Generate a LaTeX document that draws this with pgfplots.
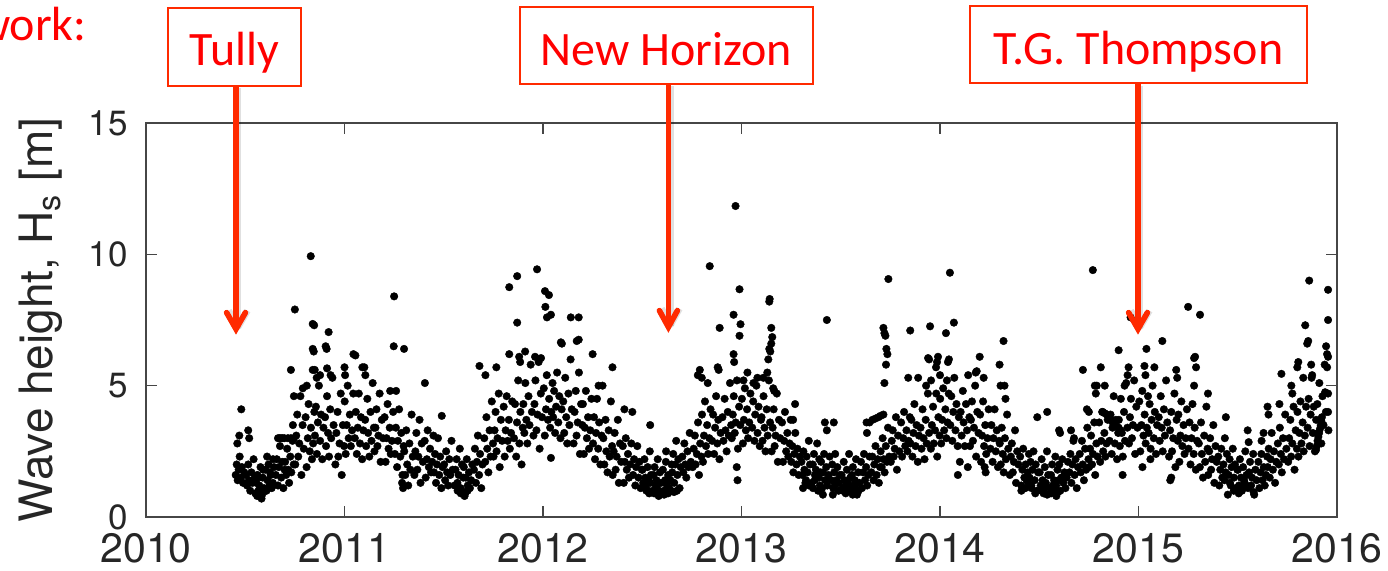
\documentclass[border=0pt]{standalone}
\usepackage{fontspec}
\setmainfont{TeX Gyre Heros}
\newfontfamily\calibri{Carlito}
\usepackage{pgfplots}
\usepackage{pgfplotstable}
\pgfplotsset{compat=1.18}
\definecolor{annot}{RGB}{255,42,0}
\definecolor{labelred}{RGB}{255,0,0}
\definecolor{axisgray}{RGB}{70,70,70}

% daily significant wave height; t = years since 2000, hs in metres
\pgfplotstableread[row sep=\\]{
t hs\\
10.452 1.6\\10.457 2.0\\10.462 1.4\\10.467 1.8\\10.472 2.3\\10.478 1.5\\10.483 1.9\\10.489 1.3\\10.495 1.7\\10.48 4.1\\10.47 3.1\\10.46 2.8\\
10.504 1.6\\10.509 1.2\\10.515 2.0\\10.519 1.4\\10.525 1.0\\10.531 1.7\\10.536 1.3\\10.542 2.2\\10.548 1.5\\10.515 3.3\\10.52 3.0\\
10.551 0.9\\10.556 1.3\\10.561 1.6\\10.566 1.0\\10.571 1.2\\10.577 1.9\\10.582 0.7\\10.588 1.5\\10.594 1.1\\10.56 0.8\\10.575 1.0\\10.585 0.85\\10.565 1.5\\10.59 1.8\\
10.602 1.8\\10.607 1.0\\10.612 1.4\\10.617 2.0\\10.622 1.2\\10.628 1.6\\10.633 1.1\\10.639 1.3\\10.645 1.9\\10.61 2.3\\10.625 1.7\\10.64 2.2\\
10.654 1.6\\10.659 2.2\\10.665 1.2\\10.669 1.9\\10.675 2.7\\10.681 1.5\\10.686 2.1\\10.692 1.1\\10.698 1.8\\10.665 3.0\\10.672 3.0\\10.68 3.0\\10.688 3.0\\
10.701 2.1\\10.706 1.6\\10.711 2.6\\10.716 1.8\\10.721 1.3\\10.727 2.3\\10.732 1.7\\10.738 2.9\\10.744 2.0\\10.697 3.0\\10.715 3.0\\10.73 3.0\\10.745 3.0\\
10.752 2.0\\10.757 3.1\\10.762 3.9\\10.767 2.3\\10.772 2.8\\10.778 4.6\\10.783 1.6\\10.789 3.5\\10.795 2.6\\10.75 7.9\\10.73 5.6\\10.745 4.6\\10.74 3.5\\
10.804 3.8\\10.809 1.9\\10.815 3.0\\10.819 4.3\\10.825 2.5\\10.831 3.4\\10.836 2.2\\10.842 2.8\\10.848 4.0\\10.83 9.93\\10.84 7.35\\10.847 7.3\\10.845 6.3\\10.84 6.4\\10.81 5.0\\10.79 4.9\\10.84 5.6\\10.85 5.6\\
10.851 3.1\\10.856 4.2\\10.861 2.4\\10.866 3.6\\10.871 5.0\\10.877 2.9\\10.882 3.9\\10.888 2.2\\10.894 3.4\\10.877 5.4\\10.86 5.3\\
10.902 3.8\\10.907 2.7\\10.912 4.6\\10.917 3.2\\10.922 2.3\\10.928 4.1\\10.933 3.0\\10.939 5.3\\10.945 3.5\\10.905 6.5\\10.91 6.4\\10.92 7.04\\10.912 5.66\\10.93 5.4\\
10.954 2.0\\10.959 3.2\\10.965 4.0\\10.969 2.3\\10.975 2.8\\10.981 4.7\\10.986 1.6\\10.992 3.5\\10.998 2.7\\
11.001 4.4\\11.006 2.4\\11.011 3.5\\11.016 5.0\\11.021 3.0\\11.027 3.9\\11.032 2.7\\11.038 3.3\\11.044 4.7\\11.0 5.7\\11.003 5.4\\11.045 6.2\\11.055 6.15\\
11.052 3.0\\11.057 4.0\\11.062 2.4\\11.067 3.4\\11.072 4.7\\11.078 2.8\\11.083 3.8\\11.089 2.2\\11.095 3.3\\11.09 5.7\\11.1 5.7\\11.105 5.4\\
11.104 3.7\\11.109 2.7\\11.115 4.5\\11.119 3.2\\11.125 2.3\\11.131 4.0\\11.136 2.9\\11.142 5.1\\11.148 3.4\\
11.151 2.5\\11.156 3.4\\11.161 4.1\\11.166 2.7\\11.171 3.1\\11.177 4.7\\11.182 2.1\\11.188 3.7\\11.194 3.0\\
11.202 3.8\\11.207 2.1\\11.212 3.0\\11.217 4.3\\11.222 2.6\\11.228 3.4\\11.233 2.4\\11.239 2.9\\11.245 4.0\\11.25 8.4\\11.248 6.5\\11.23 4.8\\11.26 4.8\\
11.254 2.4\\11.259 3.4\\11.265 1.9\\11.269 2.9\\11.275 4.1\\11.281 2.3\\11.286 3.2\\11.292 1.6\\11.298 2.7\\11.29 1.3\\11.295 1.1\\11.30 6.4\\
11.301 2.5\\11.306 1.6\\11.311 3.3\\11.316 2.0\\11.321 1.2\\11.327 2.8\\11.332 1.8\\11.338 3.9\\11.344 2.3\\
11.352 1.6\\11.357 2.5\\11.362 3.2\\11.367 1.8\\11.372 2.3\\11.378 3.7\\11.383 1.3\\11.389 2.8\\11.395 2.1\\
11.404 2.9\\11.409 1.5\\11.415 2.2\\11.419 3.3\\11.425 1.9\\11.431 2.6\\11.436 1.7\\11.442 2.1\\11.448 3.1\\11.405 5.1\\
11.451 1.7\\11.456 2.4\\11.461 1.3\\11.466 2.0\\11.471 3.0\\11.477 1.6\\11.482 2.3\\11.488 1.1\\11.494 1.9\\11.49 3.85\\
11.502 2.0\\11.507 1.4\\11.512 2.5\\11.517 1.7\\11.522 1.2\\11.528 2.2\\11.533 1.6\\11.539 2.9\\11.545 1.8\\
11.554 1.2\\11.559 1.8\\11.565 2.2\\11.569 1.3\\11.575 1.6\\11.581 2.6\\11.586 0.9\\11.592 2.0\\11.598 1.5\\11.57 1.0\\11.585 1.1\\11.595 0.9\\
11.601 1.9\\11.606 0.9\\11.611 1.5\\11.616 2.2\\11.621 1.2\\11.627 1.7\\11.632 1.1\\11.638 1.4\\11.644 2.0\\11.605 0.8\\11.612 0.95\\11.62 1.0\\
11.652 1.8\\11.657 2.6\\11.662 1.3\\11.667 2.1\\11.672 3.1\\11.678 1.6\\11.683 2.4\\11.689 1.1\\11.695 2.0\\
11.704 3.0\\11.709 2.1\\11.715 3.8\\11.719 2.6\\11.725 1.7\\11.731 3.3\\11.736 2.3\\11.742 4.4\\11.748 2.8\\11.68 5.75\\11.71 5.4\\
11.751 2.3\\11.756 3.3\\11.761 4.0\\11.766 2.5\\11.771 3.0\\11.777 4.7\\11.782 1.9\\11.788 3.7\\11.794 2.9\\11.765 5.7\\
11.802 4.2\\11.807 2.3\\11.812 3.3\\11.817 4.6\\11.822 2.9\\11.828 3.7\\11.833 2.6\\11.839 3.2\\11.845 4.4\\11.83 6.2\\11.83 8.75\\
11.854 3.0\\11.859 4.3\\11.865 2.3\\11.869 3.6\\11.875 5.2\\11.881 2.8\\11.886 4.0\\11.892 2.0\\11.898 3.4\\11.87 9.17\\11.87 7.4\\11.88 6.1\\11.885 5.9\\
11.901 4.3\\11.906 3.2\\11.911 5.1\\11.916 3.7\\11.921 2.8\\11.927 4.6\\11.932 3.5\\11.938 5.8\\11.944 4.0\\11.91 6.3\\
11.952 3.1\\11.957 4.3\\11.962 5.2\\11.967 3.3\\11.972 3.9\\11.978 5.9\\11.983 2.6\\11.989 4.7\\11.995 3.8\\11.97 9.43\\11.96 6.1\\11.99 6.05\\
12.004 4.9\\12.009 3.1\\12.015 4.1\\12.019 5.4\\12.025 3.7\\12.031 4.5\\12.036 3.4\\12.042 4.0\\12.048 5.1\\12.01 8.6\\12.03 8.45\\12.012 8.0\\12.02 7.6\\12.04 7.7\\12.04 2.25\\
12.051 3.8\\12.056 4.8\\12.061 3.2\\12.066 4.2\\12.071 5.5\\12.077 3.6\\12.082 4.6\\12.088 3.0\\12.094 4.1\\
12.102 4.4\\12.107 3.2\\12.112 5.3\\12.117 3.8\\12.122 2.8\\12.128 4.7\\12.133 3.5\\12.139 6.0\\12.145 4.1\\12.09 6.65\\12.095 6.6\\12.14 7.6\\
12.154 2.8\\12.159 4.0\\12.165 4.8\\12.169 3.1\\12.175 3.6\\12.181 5.5\\12.186 2.4\\12.192 4.3\\12.198 3.5\\12.17 6.7\\12.18 6.75\\12.18 7.6\\
12.201 4.3\\12.206 2.4\\12.211 3.4\\12.216 4.8\\12.221 3.0\\12.227 3.8\\12.232 2.6\\12.238 3.3\\12.244 4.5\\
12.252 2.8\\12.257 3.8\\12.262 2.2\\12.267 3.2\\12.272 4.5\\12.278 2.6\\12.283 3.6\\12.289 2.0\\12.295 3.1\\12.25 6.2\\
12.304 3.0\\12.309 2.0\\12.315 3.7\\12.319 2.5\\12.325 1.7\\12.331 3.3\\12.336 2.3\\12.342 4.4\\12.348 2.7\\12.28 5.0\\12.30 5.0\\12.35 5.7\\
12.351 1.6\\12.356 2.5\\12.361 3.2\\12.366 1.8\\12.371 2.3\\12.377 3.7\\12.382 1.3\\12.388 2.8\\12.394 2.1\\
12.402 2.7\\12.407 1.3\\12.412 2.1\\12.417 3.0\\12.422 1.8\\12.428 2.4\\12.433 1.5\\12.439 2.0\\12.445 2.8\\12.41 4.1\\12.45 4.0\\
12.454 1.6\\12.459 2.2\\12.465 1.2\\12.469 1.9\\12.475 2.7\\12.481 1.5\\12.486 2.1\\12.492 1.1\\12.498 1.8\\
12.501 1.8\\12.506 1.2\\12.511 2.2\\12.516 1.5\\12.521 1.0\\12.527 1.9\\12.532 1.4\\12.538 2.5\\12.544 1.6\\12.505 1.3\\12.52 1.1\\12.535 0.9\\12.54 1.3\\
12.552 1.0\\12.557 1.6\\12.562 1.9\\12.567 1.2\\12.572 1.4\\12.578 2.2\\12.583 0.8\\12.589 1.7\\12.595 1.3\\12.54 3.5\\12.56 0.9\\12.575 1.1\\12.59 0.95\\
12.604 1.8\\12.609 1.0\\12.615 1.4\\12.619 2.1\\12.625 1.2\\12.631 1.6\\12.636 1.1\\12.642 1.4\\12.648 2.0\\12.61 0.85\\12.63 0.9\\12.645 1.0\\12.62 2.5\\
12.651 1.7\\12.656 2.4\\12.661 1.3\\12.666 2.0\\12.671 2.9\\12.677 1.6\\12.682 2.2\\12.688 1.1\\12.694 1.9\\12.66 0.95\\12.675 1.0\\
12.702 2.3\\12.707 1.7\\12.712 2.8\\12.717 2.0\\12.722 1.5\\12.728 2.5\\12.733 1.9\\12.739 3.2\\12.745 2.1\\
12.754 1.9\\12.759 2.6\\12.765 3.1\\12.769 2.0\\12.775 2.4\\12.781 3.6\\12.786 1.6\\12.792 2.8\\12.798 2.3\\12.78 5.4\\12.79 5.6\\12.8 5.3\\
12.801 3.9\\12.806 2.1\\12.811 3.1\\12.816 4.4\\12.821 2.7\\12.827 3.5\\12.832 2.4\\12.838 3.0\\12.844 4.1\\12.84 9.55\\12.83 5.1\\
12.852 2.9\\12.857 3.9\\12.862 2.4\\12.867 3.4\\12.872 4.6\\12.878 2.8\\12.883 3.7\\12.889 2.2\\12.895 3.2\\12.88 5.7\\12.885 5.6\\12.89 7.2\\
12.904 3.8\\12.909 2.9\\12.915 4.5\\12.919 3.3\\12.925 2.5\\12.931 4.0\\12.936 3.1\\12.942 5.1\\12.948 3.5\\
12.951 3.0\\12.956 3.9\\12.961 4.6\\12.966 3.2\\12.971 3.6\\12.977 5.2\\12.982 2.6\\12.988 4.2\\12.994 3.5\\12.97 11.84\\12.96 7.7\\12.99 8.67\\12.995 7.34\\12.99 6.9\\12.96 6.2\\12.963 5.9\\12.976 1.9\\12.98 1.4\\
13.002 4.5\\13.007 2.8\\13.012 3.7\\13.017 4.9\\13.022 3.3\\13.028 4.1\\13.033 3.0\\13.039 3.6\\13.045 4.7\\13.01 5.2\\13.03 5.5\\
13.054 3.4\\13.059 4.4\\13.065 2.9\\13.069 3.9\\13.075 5.0\\13.081 3.2\\13.086 4.2\\13.092 2.7\\13.098 3.7\\13.06 5.1\\13.08 5.3\\
13.101 3.8\\13.106 2.9\\13.111 4.6\\13.116 3.4\\13.121 2.5\\13.127 4.1\\13.132 3.1\\13.138 5.2\\13.144 3.6\\13.11 5.3\\13.13 5.5\\13.14 8.2\\13.142 8.3\\13.15 7.2\\13.155 6.85\\13.15 6.6\\13.14 6.4\\13.145 6.3\\13.135 6.0\\
13.152 2.5\\13.157 3.4\\13.162 4.1\\13.167 2.7\\13.172 3.1\\13.178 4.7\\13.183 2.1\\13.189 3.7\\13.195 3.0\\13.16 4.9\\13.165 4.8\\
13.204 3.6\\13.209 2.1\\13.215 2.9\\13.219 4.0\\13.225 2.5\\13.231 3.2\\13.236 2.3\\13.242 2.8\\13.248 3.7\\
13.251 2.1\\13.256 2.7\\13.261 1.7\\13.266 2.4\\13.271 3.2\\13.277 2.0\\13.282 2.6\\13.288 1.6\\13.294 2.3\\13.27 4.3\\13.26 3.7\\
13.302 2.1\\13.307 1.6\\13.312 2.5\\13.317 1.8\\13.322 1.3\\13.328 2.3\\13.333 1.7\\13.339 2.9\\13.345 2.0\\13.31 1.1\\13.325 1.4\\13.34 1.2\\
13.354 1.3\\13.359 2.0\\13.365 2.4\\13.369 1.4\\13.375 1.8\\13.381 2.8\\13.386 1.0\\13.392 2.2\\13.398 1.7\\13.36 1.1\\13.37 1.6\\13.39 1.5\\13.395 1.2\\
13.401 2.1\\13.406 1.1\\13.411 1.7\\13.416 2.4\\13.421 1.4\\13.427 1.9\\13.432 1.2\\13.438 1.6\\13.444 2.3\\13.42 3.6\\13.43 3.3\\13.43 7.5\\13.41 0.85\\
13.452 1.4\\13.457 2.0\\13.462 1.1\\13.467 1.7\\13.472 2.4\\13.478 1.4\\13.483 1.9\\13.489 1.0\\13.495 1.6\\13.465 3.6\\13.46 0.85\\13.47 1.2\\13.49 1.3\\
13.504 1.6\\13.509 1.1\\13.515 2.1\\13.519 1.4\\13.525 0.9\\13.531 1.8\\13.536 1.3\\13.542 2.4\\13.548 1.5\\13.51 1.0\\13.525 1.2\\13.54 1.1\\
13.551 1.0\\13.556 1.6\\13.561 1.9\\13.566 1.2\\13.571 1.4\\13.577 2.2\\13.582 0.85\\13.588 1.7\\13.594 1.3\\13.56 0.85\\13.575 1.1\\13.59 1.0\\
13.602 2.1\\13.607 1.1\\13.612 1.7\\13.617 2.4\\13.622 1.4\\13.628 1.9\\13.633 1.2\\13.639 1.6\\13.645 2.3\\13.63 3.6\\13.632 3.2\\
13.654 1.7\\13.659 2.3\\13.665 1.4\\13.669 2.0\\13.675 2.7\\13.681 1.6\\13.686 2.2\\13.692 1.3\\13.698 1.9\\13.645 3.6\\13.66 3.7\\13.675 3.75\\13.69 3.8\\13.70 3.85\\13.715 3.9\\
13.701 2.5\\13.706 1.9\\13.711 3.0\\13.716 2.2\\13.721 1.7\\13.727 2.7\\13.732 2.1\\13.738 3.4\\13.744 2.3\\13.715 7.2\\13.72 7.0\\13.725 6.9\\13.74 9.06\\13.73 6.4\\13.735 6.2\\13.728 5.8\\13.72 5.1\\
13.752 2.1\\13.757 2.9\\13.762 3.3\\13.767 2.3\\13.772 2.6\\13.778 3.8\\13.783 1.8\\13.789 3.1\\13.795 2.5\\
13.804 3.6\\13.809 2.3\\13.815 3.0\\13.819 4.0\\13.825 2.7\\13.831 3.3\\13.836 2.5\\13.842 2.9\\13.848 3.8\\13.84 5.3\\
13.851 2.8\\13.856 3.7\\13.861 2.3\\13.866 3.2\\13.871 4.3\\13.877 2.7\\13.882 3.5\\13.888 2.1\\13.894 3.1\\13.85 7.1\\13.89 5.3\\
13.902 3.4\\13.907 2.6\\13.912 4.1\\13.917 3.0\\13.922 2.2\\13.928 3.7\\13.933 2.8\\13.939 4.7\\13.945 3.2\\
13.954 2.6\\13.959 3.5\\13.965 4.2\\13.969 2.8\\13.975 3.3\\13.981 4.7\\13.986 2.3\\13.992 3.8\\13.998 3.1\\13.95 7.26\\13.94 6.05\\13.945 6.0\\13.955 5.2\\13.93 5.0\\
14.001 4.5\\14.006 2.8\\14.011 3.7\\14.016 4.9\\14.021 3.3\\14.027 4.1\\14.032 3.0\\14.038 3.6\\14.044 4.7\\13.98 5.7\\13.985 5.9\\13.99 6.1\\14.0 5.4\\14.03 7.0\\14.04 5.9\\14.045 6.0\\14.05 9.3\\14.07 7.4\\14.035 5.2\\
14.052 3.5\\14.057 4.6\\14.062 2.9\\14.067 4.0\\14.072 5.3\\14.078 3.3\\14.083 4.3\\14.089 2.7\\14.095 3.8\\
14.104 4.0\\14.109 3.1\\14.115 4.8\\14.119 3.6\\14.125 2.7\\14.131 4.3\\14.136 3.3\\14.142 5.4\\14.148 3.8\\14.09 1.6\\14.1 2.1\\
14.151 2.7\\14.156 3.7\\14.161 4.4\\14.166 2.9\\14.171 3.4\\14.177 5.0\\14.182 2.3\\14.188 4.0\\14.194 3.2\\14.18 5.5\\14.185 5.55\\14.14 1.9\\
14.202 3.9\\14.207 2.1\\14.212 3.1\\14.217 4.4\\14.222 2.7\\14.228 3.5\\14.233 2.4\\14.239 3.0\\14.245 4.1\\14.22 5.3\\14.2 6.1\\14.225 1.9\\14.23 1.7\\
14.254 2.6\\14.259 3.5\\14.265 2.1\\14.269 3.0\\14.275 4.1\\14.281 2.5\\14.286 3.3\\14.292 1.9\\14.298 2.9\\14.3 5.8\\14.32 6.7\\14.305 5.0\\14.325 5.0\\
14.301 2.8\\14.306 2.0\\14.311 3.4\\14.316 2.4\\14.321 1.7\\14.327 3.0\\14.332 2.2\\14.338 3.9\\14.344 2.6\\14.33 4.5\\
14.352 1.6\\14.357 2.3\\14.362 2.8\\14.367 1.7\\14.372 2.1\\14.378 3.3\\14.383 1.3\\14.389 2.5\\14.395 2.0\\
14.404 2.3\\14.409 1.2\\14.415 1.8\\14.419 2.6\\14.425 1.5\\14.431 2.0\\14.436 1.4\\14.442 1.7\\14.448 2.4\\14.41 1.0\\14.43 1.1\\14.445 1.3\\
14.451 1.5\\14.456 2.1\\14.461 1.1\\14.466 1.8\\14.471 2.5\\14.477 1.4\\14.482 2.0\\14.488 1.0\\14.494 1.7\\14.46 1.2\\14.48 0.9\\14.49 3.8\\
14.502 1.7\\14.507 1.2\\14.512 2.2\\14.517 1.4\\14.522 0.9\\14.528 1.9\\14.533 1.3\\14.539 2.5\\14.545 1.6\\14.51 1.0\\14.525 1.1\\14.54 0.85\\14.54 4.0\\
14.554 1.1\\14.559 1.6\\14.565 2.0\\14.569 1.2\\14.575 1.4\\14.581 2.3\\14.586 0.8\\14.592 1.8\\14.598 1.4\\14.56 0.9\\14.57 1.0\\14.585 1.2\\14.595 0.95\\
14.601 2.0\\14.606 1.0\\14.611 1.5\\14.616 2.2\\14.621 1.3\\14.627 1.7\\14.632 1.1\\14.638 1.5\\14.644 2.1\\14.60 3.3\\14.605 3.2\\
14.652 1.7\\14.657 2.4\\14.662 1.3\\14.667 2.0\\14.672 2.9\\14.678 1.6\\14.683 2.2\\14.689 1.1\\14.695 1.9\\14.66 3.3\\14.675 3.0\\
14.704 2.4\\14.709 1.7\\14.715 2.9\\14.719 2.0\\14.725 1.4\\14.731 2.6\\14.736 1.8\\14.742 3.4\\14.748 2.2\\14.72 5.6\\
14.751 1.9\\14.756 2.6\\14.761 3.1\\14.766 2.0\\14.771 2.4\\14.777 3.6\\14.782 1.6\\14.788 2.8\\14.794 2.3\\14.77 9.4\\14.74 4.1\\14.75 4.0\\14.78 5.0\\14.785 4.7\\14.79 5.0\\
14.802 3.6\\14.807 2.1\\14.812 2.9\\14.817 4.0\\14.822 2.5\\14.828 3.2\\14.833 2.3\\14.839 2.8\\14.845 3.7\\14.81 5.7\\14.83 5.0\\14.82 4.0\\14.83 3.95\\14.84 3.9\\14.85 3.8\\14.86 3.7\\14.87 3.6\\14.88 3.5\\14.89 3.45\\14.90 3.4\\14.91 3.3\\
14.854 2.9\\14.859 3.9\\14.865 2.4\\14.869 3.4\\14.875 4.6\\14.881 2.8\\14.886 3.7\\14.892 2.2\\14.898 3.2\\
14.901 3.7\\14.906 2.7\\14.911 4.5\\14.916 3.2\\14.921 2.3\\14.927 4.0\\14.932 2.9\\14.938 5.1\\14.944 3.4\\14.90 6.35\\14.92 1.6\\14.93 5.0\\14.945 5.4\\14.95 5.7\\14.96 7.6\\
14.952 2.8\\14.957 3.8\\14.962 4.5\\14.967 3.0\\14.972 3.5\\14.978 5.2\\14.983 2.4\\14.989 4.2\\14.995 3.4\\
15.004 4.4\\15.009 2.5\\15.015 3.5\\15.019 4.8\\15.025 3.1\\15.031 3.9\\15.036 2.8\\15.042 3.4\\15.048 4.6\\15.02 1.9\\15.04 6.4\\15.03 5.75\\15.035 5.4\\
15.051 3.2\\15.056 4.3\\15.061 2.6\\15.066 3.7\\15.071 5.0\\15.077 3.0\\15.082 4.0\\15.088 2.4\\15.094 3.5\\15.06 2.2\\15.08 5.7\\
15.102 3.8\\15.107 2.9\\15.112 4.6\\15.117 3.4\\15.122 2.5\\15.128 4.1\\15.133 3.1\\15.139 5.2\\15.145 3.6\\15.12 6.7\\
15.154 2.3\\15.159 3.3\\15.165 4.0\\15.169 2.5\\15.175 3.0\\15.181 4.7\\15.186 1.9\\15.192 3.7\\15.198 2.9\\15.16 1.4\\15.165 1.5\\15.19 5.6\\15.195 5.3\\
15.201 3.9\\15.206 2.1\\15.211 3.1\\15.216 4.4\\15.221 2.7\\15.227 3.5\\15.232 2.4\\15.238 3.0\\15.244 4.1\\
15.252 2.6\\15.257 3.6\\15.262 2.0\\15.267 3.0\\15.272 4.3\\15.278 2.4\\15.283 3.4\\15.289 1.8\\15.295 2.9\\15.25 8.0\\15.28 6.05\\15.285 6.1\\15.29 5.7\\15.28 5.0\\
15.304 2.8\\15.309 1.9\\15.315 3.6\\15.319 2.4\\15.325 1.5\\15.331 3.1\\15.336 2.1\\15.342 4.2\\15.348 2.6\\15.31 7.7\\15.35 4.7\\
15.351 1.6\\15.356 2.5\\15.361 3.0\\15.366 1.8\\15.371 2.2\\15.377 3.5\\15.382 1.3\\15.388 2.7\\15.394 2.1\\
15.402 2.3\\15.407 1.2\\15.412 1.8\\15.417 2.6\\15.422 1.5\\15.428 2.0\\15.433 1.4\\15.439 1.7\\15.445 2.4\\15.44 3.8\\15.435 3.0\\
15.454 1.6\\15.459 2.2\\15.465 1.2\\15.469 1.9\\15.475 2.6\\15.481 1.5\\15.486 2.0\\15.492 1.1\\15.498 1.8\\15.46 1.3\\15.48 1.0\\15.45 0.85\\
15.501 1.8\\15.506 1.2\\15.511 2.2\\15.516 1.5\\15.521 1.0\\15.527 1.9\\15.532 1.4\\15.538 2.5\\15.544 1.6\\15.505 0.9\\15.52 1.1\\15.535 1.3\\
15.552 1.1\\15.557 1.7\\15.562 2.1\\15.567 1.2\\15.572 1.5\\15.578 2.4\\15.583 0.85\\15.589 1.8\\15.595 1.4\\15.55 3.3\\15.555 2.85\\15.58 0.95\\
15.604 2.1\\15.609 1.1\\15.615 1.7\\15.619 2.4\\15.625 1.4\\15.631 1.9\\15.636 1.2\\15.642 1.6\\15.648 2.3\\15.65 4.2\\15.655 3.9\\15.63 3.2\\15.62 2.9\\
15.651 1.9\\15.656 2.6\\15.661 1.5\\15.666 2.2\\15.671 3.2\\15.677 1.8\\15.682 2.5\\15.688 1.3\\15.694 2.1\\
15.702 2.8\\15.707 2.0\\15.712 3.4\\15.717 2.4\\15.722 1.7\\15.728 3.0\\15.733 2.2\\15.739 3.9\\15.745 2.6\\15.72 5.45\\15.71 4.3\\
15.754 2.1\\15.759 3.0\\15.765 3.7\\15.769 2.3\\15.775 2.8\\15.781 4.2\\15.786 1.8\\15.792 3.3\\15.798 2.6\\15.77 5.0\\15.775 4.7\\15.80 5.7\\15.805 5.9\\
15.801 4.0\\15.806 2.3\\15.811 3.2\\15.816 4.4\\15.821 2.8\\15.827 3.6\\15.832 2.5\\15.838 3.1\\15.844 4.2\\15.84 7.3\\15.85 6.6\\15.855 6.7\\15.83 5.3\\
15.852 3.4\\15.857 4.5\\15.862 2.7\\15.867 3.9\\15.872 5.3\\15.878 3.2\\15.883 4.2\\15.889 2.5\\15.895 3.7\\15.86 9.0\\15.87 5.8\\15.875 5.4\\
15.901 4.3\\15.906 3.2\\15.911 5.1\\15.916 3.7\\15.921 2.8\\15.927 4.6\\15.932 3.5\\15.938 5.8\\15.944 4.0\\15.894 2.55\\15.898 2.7\\15.902 2.9\\15.906 3.05\\15.91 3.2\\15.914 3.35\\15.918 3.5\\15.921 3.65\\15.924 3.8\\15.945 6.5\\15.95 6.2\\15.955 6.1\\15.955 7.5\\15.955 8.65\\15.95 5.7\\15.955 4.7\\15.955 4.0\\15.957 3.3\\15.94 4.75\\
}\hsdata

\tikzset{
  shipbox/.style={draw=annot, line width=1pt, fill=white},
  shiplabel/.style={anchor=base, inner sep=0pt, text=labelred,
    font=\calibri\fontsize{24}{24}\selectfont},
  shaft/.style={draw=annot, line width=2.8pt},
  head/.style={draw=annot, line width=2.8pt, line cap=round, line join=miter},
  shade/.style={draw=black, opacity=0.12, line width=3.4pt},
}

\begin{document}
\begin{tikzpicture}
\useasboundingbox (0,0) rectangle (694pt,285pt);
\begin{axis}[
  at={(73pt,26.5pt)}, anchor=south west,
  scale only axis, width=595.5pt, height=197pt,
  xmin=10, xmax=16, ymin=0, ymax=15,
  xtick={10,11,12,13,14,15,16},
  xticklabels={2010,2011,2012,2013,2014,2015,2016},
  ytick={0,5,10,15},
  /pgf/number format/assume math mode=true,
  tick align=inside, major tick length=5.5pt,
  xtick pos=both, ytick pos=both,
  axis line style={axisgray, line width=0.75pt},
  every tick/.style={axisgray, line width=0.75pt},
  xticklabel style={font=\fontsize{20.5}{20.5}\selectfont, text=black!85,
    inner sep=0pt, anchor=north, yshift=-8pt},
  yticklabel style={font=\fontsize{17.5}{17.5}\selectfont, text=black!85,
    inner sep=0pt, anchor=east, xshift=-9pt},
  ylabel={Wave height, H\textsubscript{s} [m]},
  ylabel style={font=\fontsize{23}{23}\selectfont, text=black!85,
    at={(axis description cs:-0.0781,0.5)}, anchor=base, inner sep=0pt},
]
\addplot[only marks, mark=*, mark size=1.9pt,
  mark options={fill=black, draw=black, line width=0.2pt}]
  table[x=t, y=hs] {\hsdata};
\end{axis}

% ship annotations: shadow, shaft, chevron head, then the label box
% Tully
\draw[shade] (119pt,241pt) -- (119pt,121pt);
\draw[shade, line join=round] (114.3pt,129.7pt) -- (119pt,121.5pt) -- (123.7pt,129.7pt);
\draw[shaft] (118pt,242pt) -- (118pt,122pt);
\draw[head] (113.3pt,128.7pt) -- (118pt,120.5pt) -- (122.7pt,128.7pt);
\draw[shipbox] (84pt,242pt) rectangle (150.5pt,281pt);
\node[shiplabel] at (117.25pt,252.5pt) {Tully};

% New Horizon
\draw[shade] (335.2pt,242pt) -- (335.2pt,122pt);
\draw[shade, line join=round] (330.7pt,130.7pt) -- (335.2pt,122.5pt) -- (339.7pt,130.7pt);
\draw[shaft] (334.2pt,243pt) -- (334.2pt,123pt);
\draw[head] (329.7pt,129.7pt) -- (334.2pt,121.5pt) -- (338.7pt,129.7pt);
\draw[shipbox] (260pt,243pt) rectangle (406.5pt,281.5pt);
\node[shiplabel] at (333.25pt,252.5pt) {New Horizon};

% T.G. Thompson
\draw[shade] (570pt,242pt) -- (570pt,121pt);
\draw[shade, line join=round] (565.3pt,129.7pt) -- (570pt,121.5pt) -- (574.7pt,129.7pt);
\draw[shaft] (569pt,243.5pt) -- (569pt,122pt);
\draw[head] (564.3pt,128.7pt) -- (569pt,120.5pt) -- (573.7pt,128.7pt);
\draw[shipbox] (485pt,243.5pt) rectangle (653.5pt,282pt);
\node[shiplabel] at (569.25pt,253pt) {T.G. Thompson};

% heading text running in from the left edge
\node[anchor=base east, inner sep=0pt, text=labelred,
  font=\calibri\fontsize{24}{24}\selectfont] at (43.5pt,265pt) {work:};
\end{tikzpicture}
\end{document}
